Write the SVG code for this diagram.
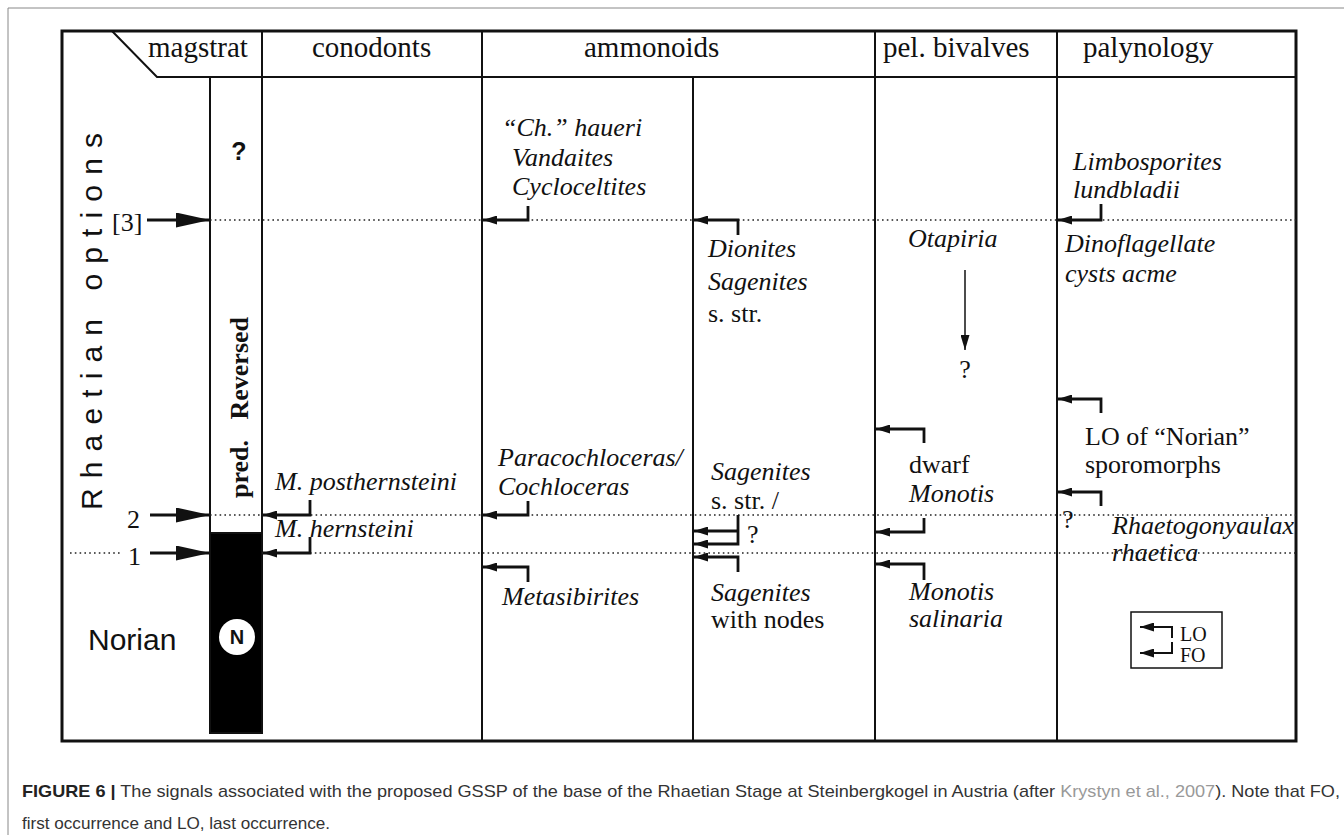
<svg xmlns="http://www.w3.org/2000/svg" width="1344" height="835" viewBox="0 0 1344 835">
<defs>
<style>
.frame{fill:none;stroke:#111;stroke-width:3}
.ln{fill:none;stroke:#111;stroke-width:2}
.dot{fill:none;stroke:#222;stroke-width:1.6;stroke-dasharray:1.6 3.2}
.arr{fill:none;stroke:#111;stroke-width:2.8;marker-end:url(#sm)}
.big{fill:none;stroke:#111;stroke-width:3;marker-end:url(#bg)}
.thin{fill:none;stroke:#111;stroke-width:1.5;marker-end:url(#th)}
.h{font-family:"Liberation Serif","Times New Roman",serif;font-size:29px;fill:#111}
.t{font-family:"Liberation Serif","Times New Roman",serif;font-size:26px;fill:#111}
.i{font-style:italic}
.sans{font-family:"Liberation Sans",Arial,sans-serif;fill:#111}
.cap{font-family:"Liberation Sans",Arial,sans-serif;font-size:17px;fill:#333}
</style>
<marker id="sm" markerUnits="userSpaceOnUse" markerWidth="14" markerHeight="9" refX="14" refY="4.5" orient="auto"><path d="M0,0 L14,4.5 L0,9 z" fill="#111"/></marker>
<marker id="bg" markerUnits="userSpaceOnUse" markerWidth="34" markerHeight="15" refX="34" refY="7.5" orient="auto"><path d="M0,0 L34,7.5 L0,15 z" fill="#111"/></marker>
<marker id="th" markerUnits="userSpaceOnUse" markerWidth="15" markerHeight="9" refX="15" refY="4.5" orient="auto"><path d="M0,0 L15,4.5 L0,9 z" fill="#111"/></marker>
</defs>
<rect width="1344" height="835" fill="#fff"/>
<path d="M8,835 V8 H1344" fill="none" stroke="#888" stroke-width="1"/>

<g id="table">
<rect class="frame" x="62" y="31" width="1234" height="710"/>
<path class="ln" d="M112,31 L157,77 H1296"/>
<path class="ln" d="M262,31 V77 M482,31 V741 M693,77 V741 M875,31 V741 M1057,31 V741"/>
<rect x="210" y="77" width="52" height="456" fill="#fff" stroke="#111" stroke-width="2"/>
<rect x="210" y="533" width="52" height="200" fill="#000" stroke="#111" stroke-width="2"/>
</g>

<g id="headers">
<text class="h" x="148" y="57">magstrat</text>
<text class="h" x="312" y="57">conodonts</text>
<text class="h" x="584" y="57">ammonoids</text>
<text class="h" x="883" y="57">pel. bivalves</text>
<text class="h" x="1083" y="57">palynology</text>
</g>

<g id="connectors">
<path class="dot" d="M210,220 H1296"/>
<path class="dot" d="M210,515 H1296"/>
<path class="dot" d="M70,553 H120 M262,553 H1296"/>
<path class="big" d="M147,220 H210"/>
<path class="big" d="M150,515 H210"/>
<path class="big" d="M150,553 H210"/>
<path class="arr" d="M310,500 V515 H263"/>
<path class="arr" d="M310,537 V553 H263"/>
<path class="arr" d="M528,206 V220 H483"/>
<path class="arr" d="M738,235 V220 H694"/>
<path class="arr" d="M528,501 V515 H483"/>
<path class="arr" d="M528,582 V567 H483"/>
<path class="arr" d="M738,515 V544 H694"/>
<path class="arr" d="M738,531 H694"/>
<path class="arr" d="M738,572 V557 H694"/>
<path class="arr" d="M924,443 V429 H876"/>
<path class="arr" d="M924,518 V532 H876"/>
<path class="arr" d="M924,580 V564 H876"/>
<path class="arr" d="M1101,204 V220 H1058"/>
<path class="arr" d="M1101,413 V399 H1058"/>
<path class="arr" d="M1101,506 V492 H1058"/>
<path class="thin" d="M965,270 V350"/>
</g>

<g id="left-labels">
<text class="sans" font-size="30" transform="translate(102,510) rotate(-90)" textLength="377" lengthAdjust="spacing">Rhaetian options</text>
<text class="t" x="112" y="231">[3]</text>
<text class="t" x="127" y="528">2</text>
<text class="t" x="128" y="565">1</text>
<text class="sans" font-size="30" x="88" y="650">Norian</text>
</g>

<g id="magstrat">
<text class="sans" font-size="25" font-weight="bold" x="239" y="160" text-anchor="middle">?</text>
<g transform="translate(248,498) rotate(-90)">
<text class="t" font-weight="bold" x="0" y="0">pred.</text>
<text class="t" font-weight="bold" x="181" y="0" text-anchor="end">Reversed</text>
</g>
<circle cx="237" cy="637" r="18" fill="#fff"/>
<text class="sans" font-size="20" font-weight="bold" x="237" y="644" text-anchor="middle">N</text>
</g>

<g id="conodonts">
<text class="t i" x="275" y="490">M. posthernsteini</text>
<text class="t i" x="275" y="537">M. hernsteini</text>
</g>

<g id="ammonoids-a">
<text class="t i" x="502" y="136">“Ch.” haueri</text>
<text class="t i" x="512" y="166">Vandaites</text>
<text class="t i" x="512" y="195">Cycloceltites</text>
<text class="t i" x="498" y="466">Paracochloceras/</text>
<text class="t i" x="498" y="495">Cochloceras</text>
<text class="t i" x="502" y="605">Metasibirites</text>
</g>

<g id="ammonoids-b">
<text class="t i" x="708" y="257">Dionites</text>
<text class="t i" x="708" y="290">Sagenites</text>
<text class="t" x="708" y="322">s. str.</text>
<text class="t i" x="711" y="480">Sagenites</text>
<text class="t" x="711" y="509">s. str. /</text>
<text class="t" x="747" y="543">?</text>
<text class="t i" x="711" y="601">Sagenites</text>
<text class="t" x="711" y="628">with nodes</text>
</g>

<g id="bivalves">
<text class="t i" x="908" y="247">Otapiria</text>
<text class="t" x="965" y="378" text-anchor="middle">?</text>
<text class="t" x="909" y="473">dwarf</text>
<text class="t i" x="909" y="502">Monotis</text>
<text class="t i" x="909" y="600">Monotis</text>
<text class="t i" x="909" y="627">salinaria</text>
</g>

<g id="palynology">
<text class="t i" x="1073" y="170">Limbosporites</text>
<text class="t i" x="1073" y="198">lundbladii</text>
<text class="t i" x="1065" y="252">Dinoflagellate</text>
<text class="t i" x="1065" y="282">cysts acme</text>
<text class="t" x="1085" y="445">LO of “Norian”</text>
<text class="t" x="1085" y="473">sporomorphs</text>
<text class="t" x="1062" y="528">?</text>
<text class="t i" x="1112" y="534">Rhaetogonyaulax</text>
<text class="t i" x="1112" y="561">rhaetica</text>
</g>

<g id="legend">
<rect x="1131" y="612" width="91" height="56" fill="none" stroke="#111" stroke-width="1.5"/>
<path class="arr" d="M1172,638 V627 H1140" style="stroke-width:2"/>
<path class="arr" d="M1172,642 V653 H1140" style="stroke-width:2"/>
<text class="t" x="1180" y="641" style="font-size:20px">LO</text>
<text class="t" x="1180" y="662" style="font-size:20px">FO</text>
</g>

<g id="caption">
<text class="cap" x="22" y="797" textLength="1318" lengthAdjust="spacingAndGlyphs"><tspan font-weight="bold" fill="#222">FIGURE 6 |</tspan> The signals associated with the proposed GSSP of the base of the Rhaetian Stage at Steinbergkogel in Austria (after <tspan fill="#999">Krystyn et al., 2007</tspan>). Note that FO,</text>
<text class="cap" x="22" y="829" textLength="308" lengthAdjust="spacingAndGlyphs">first occurrence and LO, last occurrence.</text>
</g>
</svg>
